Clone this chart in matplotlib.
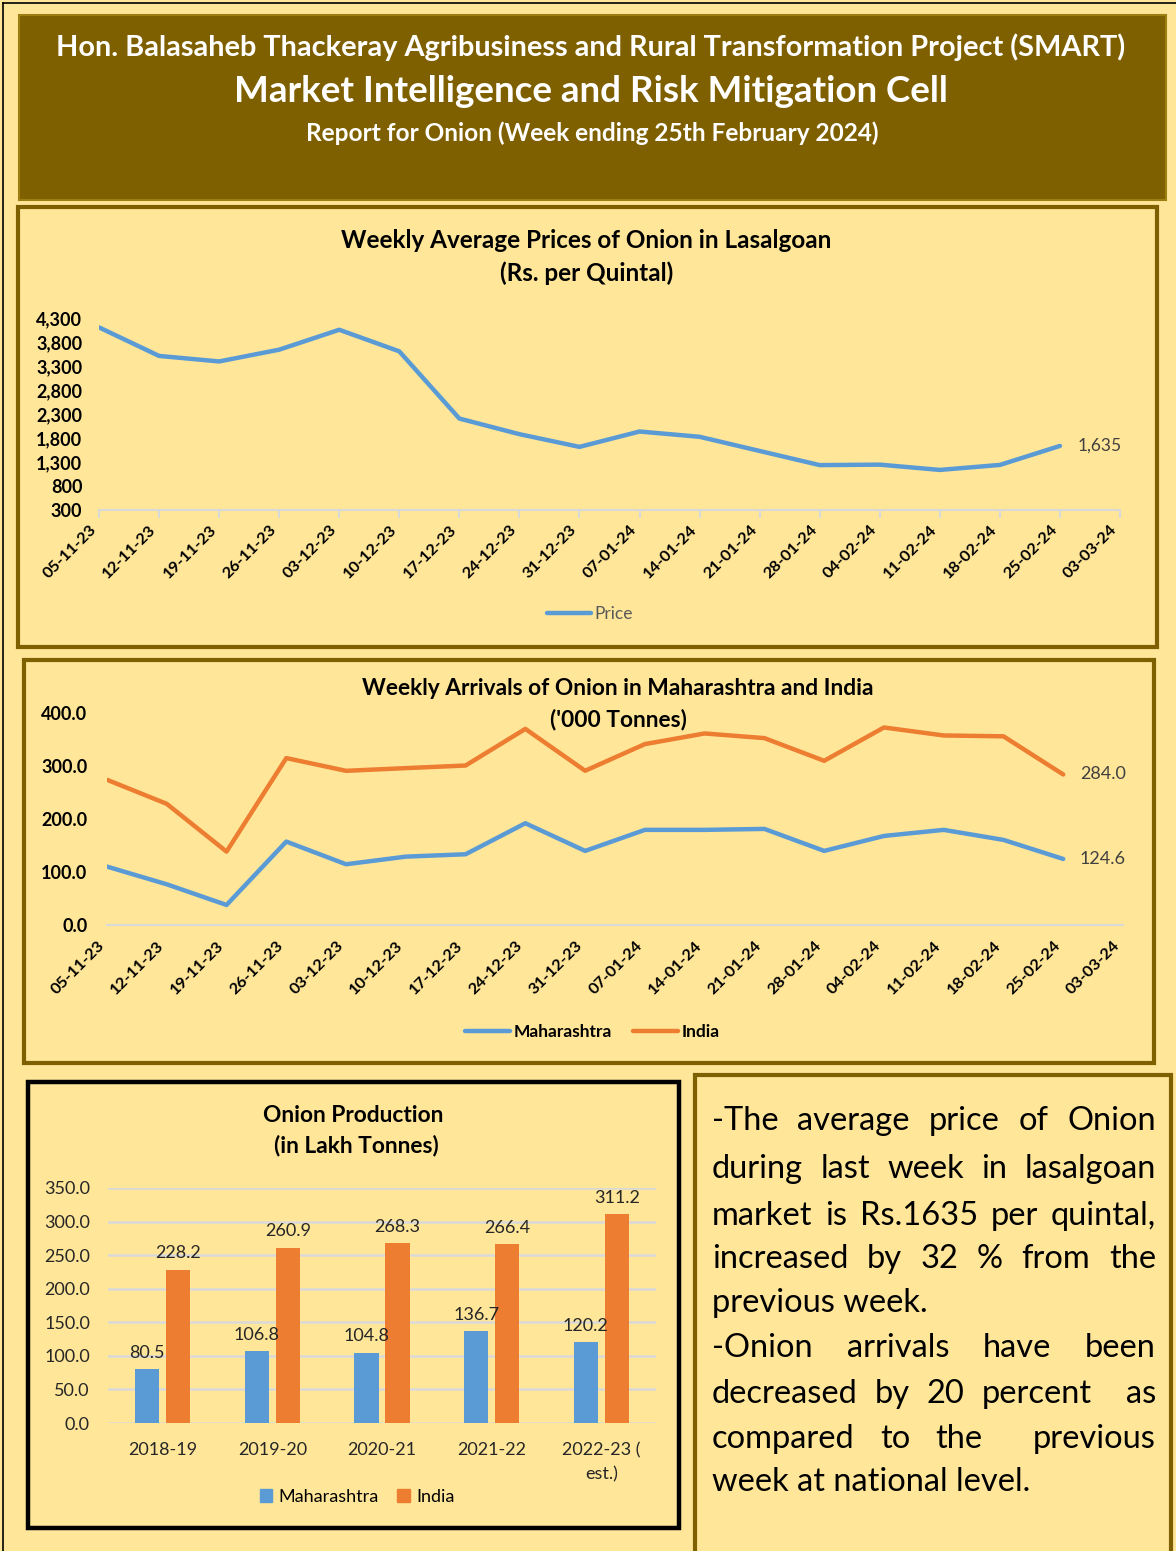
import numpy as np
import matplotlib.pyplot as plt
from matplotlib.patches import Rectangle, Patch
from matplotlib.lines import Line2D

plt.rcParams['font.family'] = ['Lato', 'DejaVu Sans']

# ---- data ----
weeks = ['05-11-23', '12-11-23', '19-11-23', '26-11-23', '03-12-23', '10-12-23',
         '17-12-23', '24-12-23', '31-12-23', '07-01-24', '14-01-24', '21-01-24',
         '28-01-24', '04-02-24', '11-02-24', '18-02-24', '25-02-24', '03-03-24']
price = [4105, 3510, 3395, 3640, 4055, 3605, 2205, 1880, 1615, 1935, 1825, 1530,
         1235, 1245, 1135, 1239, 1635]
arr_mh = [110.2, 76.8, 37.8, 157.4, 114.6, 129.0, 133.5, 192.0, 139.8, 179.5,
          179.5, 181.3, 139.8, 168.0, 179.5, 160.6, 124.6]
arr_india = [274.0, 228.6, 138.5, 314.9, 290.9, 296.0, 300.9, 370.0, 291.0, 341.3,
             361.4, 352.6, 309.8, 372.7, 357.6, 356.0, 284.0]
years = ['2018-19', '2019-20', '2020-21', '2021-22', '2022-23 (\nest.)']
prod_mh = [80.5, 106.8, 104.8, 136.7, 120.2]
prod_india = [228.2, 260.9, 268.3, 266.4, 311.2]

note_lines = [
    ('-The average price of Onion', True),
    ('during last week in lasalgoan', True),
    ('market is Rs.1635 per quintal,', True),
    ('increased by 32 % from the', True),
    ('previous week.', False),
    ('-Onion arrivals have been', True),
    ('decreased by 20 percent  as', True),
    ('compared to the  previous', True),
    ('week at national level.', False),
]

BG = '#FFE699'
OLIVE = '#7F6000'
BLUE = '#5B9BD5'
ORANGE = '#ED7D31'
AXC = '#D9D9D9'

W, H = 1176, 1551
fig = plt.figure(figsize=(W / 100, H / 100), dpi=100, facecolor=BG)


def fx(x):
    return x / W


def fy(y):
    return 1 - y / H


def rect(x0, y0, x1, y1, **kw):
    r = Rectangle((fx(x0), fy(y1)), (x1 - x0) / W, (y1 - y0) / H,
                  transform=fig.transFigure, **kw)
    fig.add_artist(r)
    return r


def px_axes(x0, y0, x1, y1):
    a = fig.add_axes([fx(x0), fy(y1), (x1 - x0) / W, (y1 - y0) / H])
    a.set_facecolor('none')
    return a


# outer frame lines
fig.add_artist(Line2D([fx(3), 1], [fy(3), fy(3)], transform=fig.transFigure, color='black', lw=1.2))
fig.add_artist(Line2D([fx(3), fx(3)], [fy(3), 0], transform=fig.transFigure, color='black', lw=1.2))

# header
rect(19, 15, 1166, 200, facecolor=OLIVE, edgecolor='#9C7F10', lw=1.5)
fig.text(fx(591), fy(47), 'Hon. Balasaheb Thackeray Agribusiness and Rural Transformation Project (SMART)',
         ha='center', va='center', color='white', fontsize=20.8, fontweight='bold')
fig.text(fx(591), fy(92), 'Market Intelligence and Risk Mitigation Cell',
         ha='center', va='center', color='white', fontsize=26.5, fontweight='bold')
fig.text(fx(592), fy(133), 'Report for Onion (Week ending 25th February 2024)',
         ha='center', va='center', color='white', fontsize=17.6, fontweight='bold')

# ---- price panel ----
rect(18, 207, 1157, 647, facecolor='none', edgecolor=OLIVE, lw=3)
fig.text(fx(586), fy(241), 'Weekly Average Prices of Onion in Lasalgoan',
         ha='center', va='center', fontsize=17.5, fontweight='bold')
fig.text(fx(587), fy(273), '(Rs. per Quintal)', ha='center', va='center',
         fontsize=17.5, fontweight='bold')

ax1 = px_axes(99, 318, 1120, 510)
x = np.arange(len(price))
ax1.plot(x, price, color=BLUE, lw=3.2, solid_capstyle='round', label='Price')
ax1.set_xlim(0, len(weeks) - 1)
ax1.set_ylim(300, 4300)
ax1.set_yticks(range(300, 4301, 500))
ax1.set_yticklabels([f'{v:,}' for v in range(300, 4301, 500)], fontsize=13, fontweight='bold')
ax1.set_xticks(range(len(weeks)))
ax1.set_xticklabels(weeks, rotation=45, ha='right', va='top', fontsize=11.8, fontweight='bold')
for s in ['top', 'right', 'left']:
    ax1.spines[s].set_visible(False)
ax1.spines['bottom'].set_color(AXC)
ax1.spines['bottom'].set_linewidth(1.5)
ax1.tick_params(axis='x', color=AXC, length=6, width=1.5, pad=3)
ax1.tick_params(axis='y', length=0, pad=12)
ax1.annotate(f'{price[-1]:,}', (x[-1], price[-1]), xytext=(13, 0), textcoords='offset points',
             ha='left', va='center', fontsize=12.5, color='#404040')
ax1.legend(loc='center', bbox_to_anchor=(fx(590), fy(614)), bbox_transform=fig.transFigure,
           frameon=False, handlelength=2.5, handletextpad=0.2, fontsize=12.5, labelcolor='#595959')

# ---- arrivals panel ----
rect(24, 660, 1154, 1063, facecolor='none', edgecolor=OLIVE, lw=3)
fig.text(fx(618), fy(688), 'Weekly Arrivals of Onion in Maharashtra and India',
         ha='center', va='center', fontsize=16.4, fontweight='bold')
fig.text(fx(618), fy(719), "('000 Tonnes)", ha='center', va='center',
         fontsize=16.4, fontweight='bold')

ax2 = px_axes(107, 713, 1123, 925)
x2 = np.arange(len(arr_mh))
ax2.plot(x2, arr_mh, color=BLUE, lw=3.2, solid_capstyle='round', label='Maharashtra')
ax2.plot(x2, arr_india, color=ORANGE, lw=3.2, solid_capstyle='round', label='India')
ax2.set_xlim(0, len(weeks) - 1)
ax2.set_ylim(0, 400)
ax2.set_yticks(range(0, 401, 100))
ax2.set_yticklabels([f'{v:.1f}' for v in range(0, 401, 100)], fontsize=13, fontweight='bold')
ax2.set_xticks(range(len(weeks)))
ax2.set_xticklabels(weeks, rotation=45, ha='right', va='top', fontsize=11.8, fontweight='bold')
for s in ['top', 'right', 'left']:
    ax2.spines[s].set_visible(False)
ax2.spines['bottom'].set_color(AXC)
ax2.spines['bottom'].set_linewidth(1.5)
ax2.tick_params(axis='x', length=0, pad=10)
ax2.tick_params(axis='y', length=0, pad=14)
for ser in (arr_india, arr_mh):
    ax2.annotate(f'{ser[-1]:.1f}', (x2[-1], ser[-1]), xytext=(12, 0), textcoords='offset points',
                 ha='left', va='center', fontsize=13, color='#404040')
ax2.legend(loc='center', bbox_to_anchor=(fx(592), fy(1032)), bbox_transform=fig.transFigure,
           ncol=2, frameon=False, handlelength=2.6, handletextpad=0.2, columnspacing=1.2,
           prop={'size': 12.5, 'weight': 'bold'})

# ---- production bar panel ----
rect(28, 1082, 679, 1528, facecolor='none', edgecolor='black', lw=3.2)
fig.text(fx(353), fy(1115), 'Onion Production', ha='center', va='center',
         fontsize=16.4, fontweight='bold')
fig.text(fx(356), fy(1146), '(in Lakh Tonnes)', ha='center', va='center',
         fontsize=16.4, fontweight='bold')

ax3 = px_axes(108, 1188, 656, 1423)
xb = np.arange(len(years))
bw = 0.22
off = 0.141
b1 = ax3.bar(xb - off, prod_mh, bw, color=BLUE, label='Maharashtra', zorder=3)
b2 = ax3.bar(xb + off, prod_india, bw, color=ORANGE, label='India', zorder=3)
for bars in (b1, b2):
    for b in bars:
        ax3.annotate(f'{b.get_height():.1f}', (b.get_x() + b.get_width() / 2, b.get_height()),
                     xytext=(0, 6), textcoords='offset points', ha='center', va='bottom',
                     fontsize=13, color='#262626', zorder=4)
ax3.set_xlim(-0.5, len(years) - 0.5)
ax3.set_ylim(0, 350)
ax3.set_yticks(range(0, 351, 50))
ax3.set_yticklabels([f'{v:.1f}' for v in range(0, 351, 50)], fontsize=13, color='#262626')
ax3.set_xticks(xb)
ax3.set_xticklabels(years, fontsize=13, color='#262626', linespacing=1.6, va='top')
ax3.grid(axis='y', color=AXC, lw=1.8, zorder=0)
ax3.set_axisbelow(True)
for s in ax3.spines.values():
    s.set_visible(False)
ax3.tick_params(length=0)
ax3.tick_params(axis='y', pad=13)
ax3.tick_params(axis='x', pad=14)
ax3.legend(handles=[Patch(color=BLUE, label='Maharashtra'), Patch(color=ORANGE, label='India')],
           loc='center', bbox_to_anchor=(fx(357), fy(1497)), bbox_transform=fig.transFigure,
           ncol=2, frameon=False, handlelength=0.7, handleheight=0.7, handletextpad=0.35,
           columnspacing=1.0, fontsize=13)

# ---- commentary box ----
rect(695, 1075, 1171, 1570, facecolor='none', edgecolor=OLIVE, lw=3, clip_on=False)
tx0, tx1 = 712, 1156
fs = 23.5
baselines = [1130, 1178, 1225, 1268, 1312, 1357, 1403, 1448, 1491]
rend = fig.canvas.get_renderer()
for (line, full), yb in zip(note_lines, baselines):
    if not full:
        fig.text(fx(tx0), fy(yb), line, ha='left', va='baseline', fontsize=fs)
        continue
    toks = line.split(' ')
    arts = [fig.text(0, fy(yb), t, ha='left', va='baseline', fontsize=fs) for t in toks]
    ws = [a.get_window_extent(rend).width if t else 0 for a, t in zip(arts, toks)]
    gap = (tx1 - tx0 - sum(ws)) / (len(toks) - 1)
    xp = tx0
    for a, w in zip(arts, ws):
        a.set_x(fx(xp))
        xp += w + gap

fig.savefig('out.png', dpi=100, facecolor=BG)
